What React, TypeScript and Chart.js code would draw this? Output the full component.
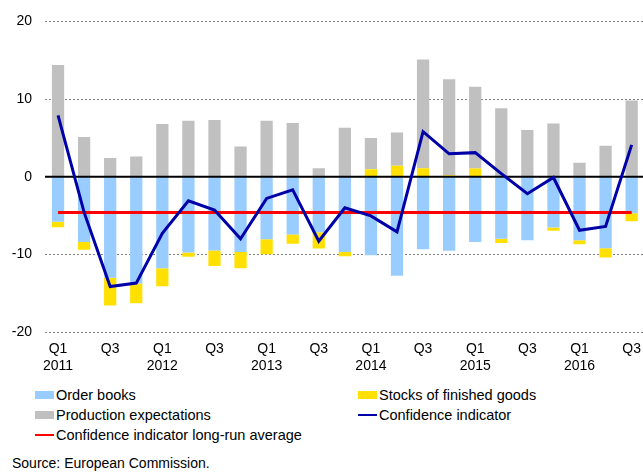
import React, { useEffect, useRef } from "react";
import { Chart, registerables } from "chart.js";

Chart.register(...registerables);

const quarters = [
  "Q1 2011", "Q2 2011", "Q3 2011", "Q4 2011",
  "Q1 2012", "Q2 2012", "Q3 2012", "Q4 2012",
  "Q1 2013", "Q2 2013", "Q3 2013", "Q4 2013",
  "Q1 2014", "Q2 2014", "Q3 2014", "Q4 2014",
  "Q1 2015", "Q2 2015", "Q3 2015", "Q4 2015",
  "Q1 2016", "Q2 2016", "Q3 2016",
];

const xTickLabels: (string | string[])[] = [
  ["Q1", "2011"], "", "Q3", "",
  ["Q1", "2012"], "", "Q3", "",
  ["Q1", "2013"], "", "Q3", "",
  ["Q1", "2014"], "", "Q3", "",
  ["Q1", "2015"], "", "Q3", "",
  ["Q1", "2016"], "", "Q3",
];

const orderBooks = [
  -5.8, -8.4, -13.0, -13.75, -11.8, -9.75, -9.5, -9.7, -8.05, -7.45, -7.15, -9.7,
  -10.1, -12.75, -9.35, -9.55, -8.4, -8.0, -8.2, -6.55, -8.2, -9.2, -4.7,
];

const stocksFinishedGoods = [
  -0.7, -1.0, -3.6, -2.55, -2.3, -0.55, -2.0, -2.1, -1.95, -1.2, -2.1, -0.55,
  0.95, 1.4, 1.1, 0.2, 1.05, -0.55, 0.1, -0.4, -0.5, -1.2, -1.05,
];

const productionExpectations = [
  14.4, 5.1, 2.4, 2.6, 6.8, 7.2, 7.3, 3.9, 7.2, 6.9, 1.1, 6.3,
  4.05, 4.3, 14.0, 12.35, 10.55, 8.8, 5.9, 6.85, 1.8, 4.0, 9.8,
];

const confidenceIndicator = [
  7.9, -4.6, -14.15, -13.7, -7.3, -3.1, -4.3, -8.0, -2.8, -1.7, -8.3, -4.0,
  -5.05, -7.1, 5.8, 2.95, 3.1, 0.4, -2.2, -0.1, -6.9, -6.4, 4.1,
];

const longRunAverage = [
  -4.6, -4.6, -4.6, -4.6, -4.6, -4.6, -4.6, -4.6, -4.6, -4.6, -4.6, -4.6,
  -4.6, -4.6, -4.6, -4.6, -4.6, -4.6, -4.6, -4.6, -4.6, -4.6, -4.6,
];

const yTicks = [-20, -10, 0, 10, 20];

const FONT = '"Liberation Sans", Arial, sans-serif';
const COLORS = {
  orderBooks: "#99CCFF",
  stocks: "#FFE000",
  production: "#C0C0C0",
  confidence: "#0000A8",
  average: "#FF0000",
};

const zeroLinePlugin = {
  id: "zeroLine",
  beforeDatasetDraw(chart: any, args: any) {
    if (args.index !== 3) return;
    const y = chart.scales.y.getPixelForValue(0);
    const { left, right } = chart.chartArea;
    const ctx = chart.ctx;
    ctx.save();
    ctx.strokeStyle = "#000";
    ctx.lineWidth = 2;
    ctx.beginPath();
    ctx.moveTo(left, y);
    ctx.lineTo(right, y);
    ctx.stroke();
    ctx.restore();
  },
};

function ChartCanvas() {
  const ref = useRef<HTMLCanvasElement>(null);
  useEffect(() => {
    if (!ref.current) return;
    const chart = new Chart(ref.current, {
      type: "bar",
      data: {
        labels: quarters,
        datasets: [
          {
            type: "bar",
            label: "Order books",
            data: orderBooks,
            backgroundColor: COLORS.orderBooks,
            order: 2,
            stack: "bars",
            barPercentage: 0.47,
            categoryPercentage: 1,
          },
          {
            type: "bar",
            label: "Stocks of finished goods",
            data: stocksFinishedGoods,
            backgroundColor: COLORS.stocks,
            order: 2,
            stack: "bars",
            barPercentage: 0.47,
            categoryPercentage: 1,
          },
          {
            type: "bar",
            label: "Production expectations",
            data: productionExpectations,
            backgroundColor: COLORS.production,
            order: 2,
            stack: "bars",
            barPercentage: 0.47,
            categoryPercentage: 1,
          },
          {
            type: "line",
            label: "Confidence indicator long-run average",
            data: longRunAverage,
            borderColor: COLORS.average,
            backgroundColor: COLORS.average,
            borderWidth: 3,
            pointRadius: 0,
            tension: 0,
            order: 1,
            stack: "avg",
          },
          {
            type: "line",
            label: "Confidence indicator",
            data: confidenceIndicator,
            borderColor: COLORS.confidence,
            backgroundColor: COLORS.confidence,
            borderWidth: 3,
            pointRadius: 0,
            tension: 0,
            order: 0,
            stack: "conf",
          },
        ],
      } as any,
      options: {
        responsive: false,
        animation: false,
        devicePixelRatio: 1,
        layout: { padding: { top: 20, left: 0, right: 0, bottom: 0 } },
        plugins: {
          legend: { display: false },
          tooltip: { enabled: false },
        },
        scales: {
          x: {
            stacked: true,
            grid: { display: false, drawTicks: false },
            border: { display: false },
            ticks: {
              autoSkip: false,
              maxRotation: 0,
              minRotation: 0,
              padding: 9,
              color: "#000",
              font: { family: FONT, size: 14 },
              callback: (_v: any, i: number) => xTickLabels[i],
            },
            afterFit: (scale: any) => {
              scale.height = 48;
            },
          },
          y: {
            stacked: true,
            min: -20,
            max: 20,
            afterBuildTicks: (scale: any) => {
              scale.ticks = yTicks.map((v) => ({ value: v }));
            },
            grid: {
              drawTicks: false,
              color: (ctx: any) =>
                ctx.tick && ctx.tick.value === 0 ? "rgba(0,0,0,0)" : "#808080",
              lineWidth: 1,
            },
            border: { display: false, dash: [2, 2] },
            ticks: {
              padding: 13,
              color: "#000",
              font: { family: FONT, size: 14 },
            },
            afterFit: (scale: any) => {
              scale.width = 45;
            },
          },
        },
      } as any,
      plugins: [zeroLinePlugin],
    });
    return () => chart.destroy();
  }, []);
  return (
    <canvas
      ref={ref}
      width={650}
      height={380}
      style={{ position: "absolute", left: 0, top: 0, width: 650, height: 380 }}
    />
  );
}

const legendRows = [
  { label: "Order books", kind: "box", color: COLORS.orderBooks, x: 35, y: 395 },
  { label: "Stocks of finished goods", kind: "box", color: COLORS.stocks, x: 358, y: 395 },
  { label: "Production expectations", kind: "box", color: COLORS.production, x: 35, y: 415 },
  { label: "Confidence indicator", kind: "line", color: COLORS.confidence, x: 358, y: 415 },
  { label: "Confidence indicator long-run average", kind: "line", color: COLORS.average, x: 35, y: 435 },
];

export default function App() {
  return (
    <div
      style={{
        position: "absolute",
        left: 0,
        top: 0,
        width: 643,
        height: 472,
        overflow: "hidden",
        background: "#fff",
        fontFamily: FONT,
        color: "#000",
      }}
    >
      <ChartCanvas />
      {legendRows.map((r) => (
        <div
          key={r.label}
          style={{
            position: "absolute",
            left: r.x,
            top: r.y - 10,
            height: 20,
            display: "flex",
            alignItems: "center",
            fontSize: 14.5,
            whiteSpace: "nowrap",
          }}
        >
          <span
            style={{
              display: "inline-block",
              width: 19,
              height: r.kind === "box" ? 8 : 2,
              background: r.color,
              marginRight: 2,
            }}
          />
          <span>{r.label}</span>
        </div>
      ))}
      <div
        style={{
          position: "absolute",
          left: 12,
          top: 453,
          height: 20,
          lineHeight: "20px",
          fontSize: 14,
          whiteSpace: "nowrap",
        }}
      >
        Source: European Commission.
      </div>
    </div>
  );
}
